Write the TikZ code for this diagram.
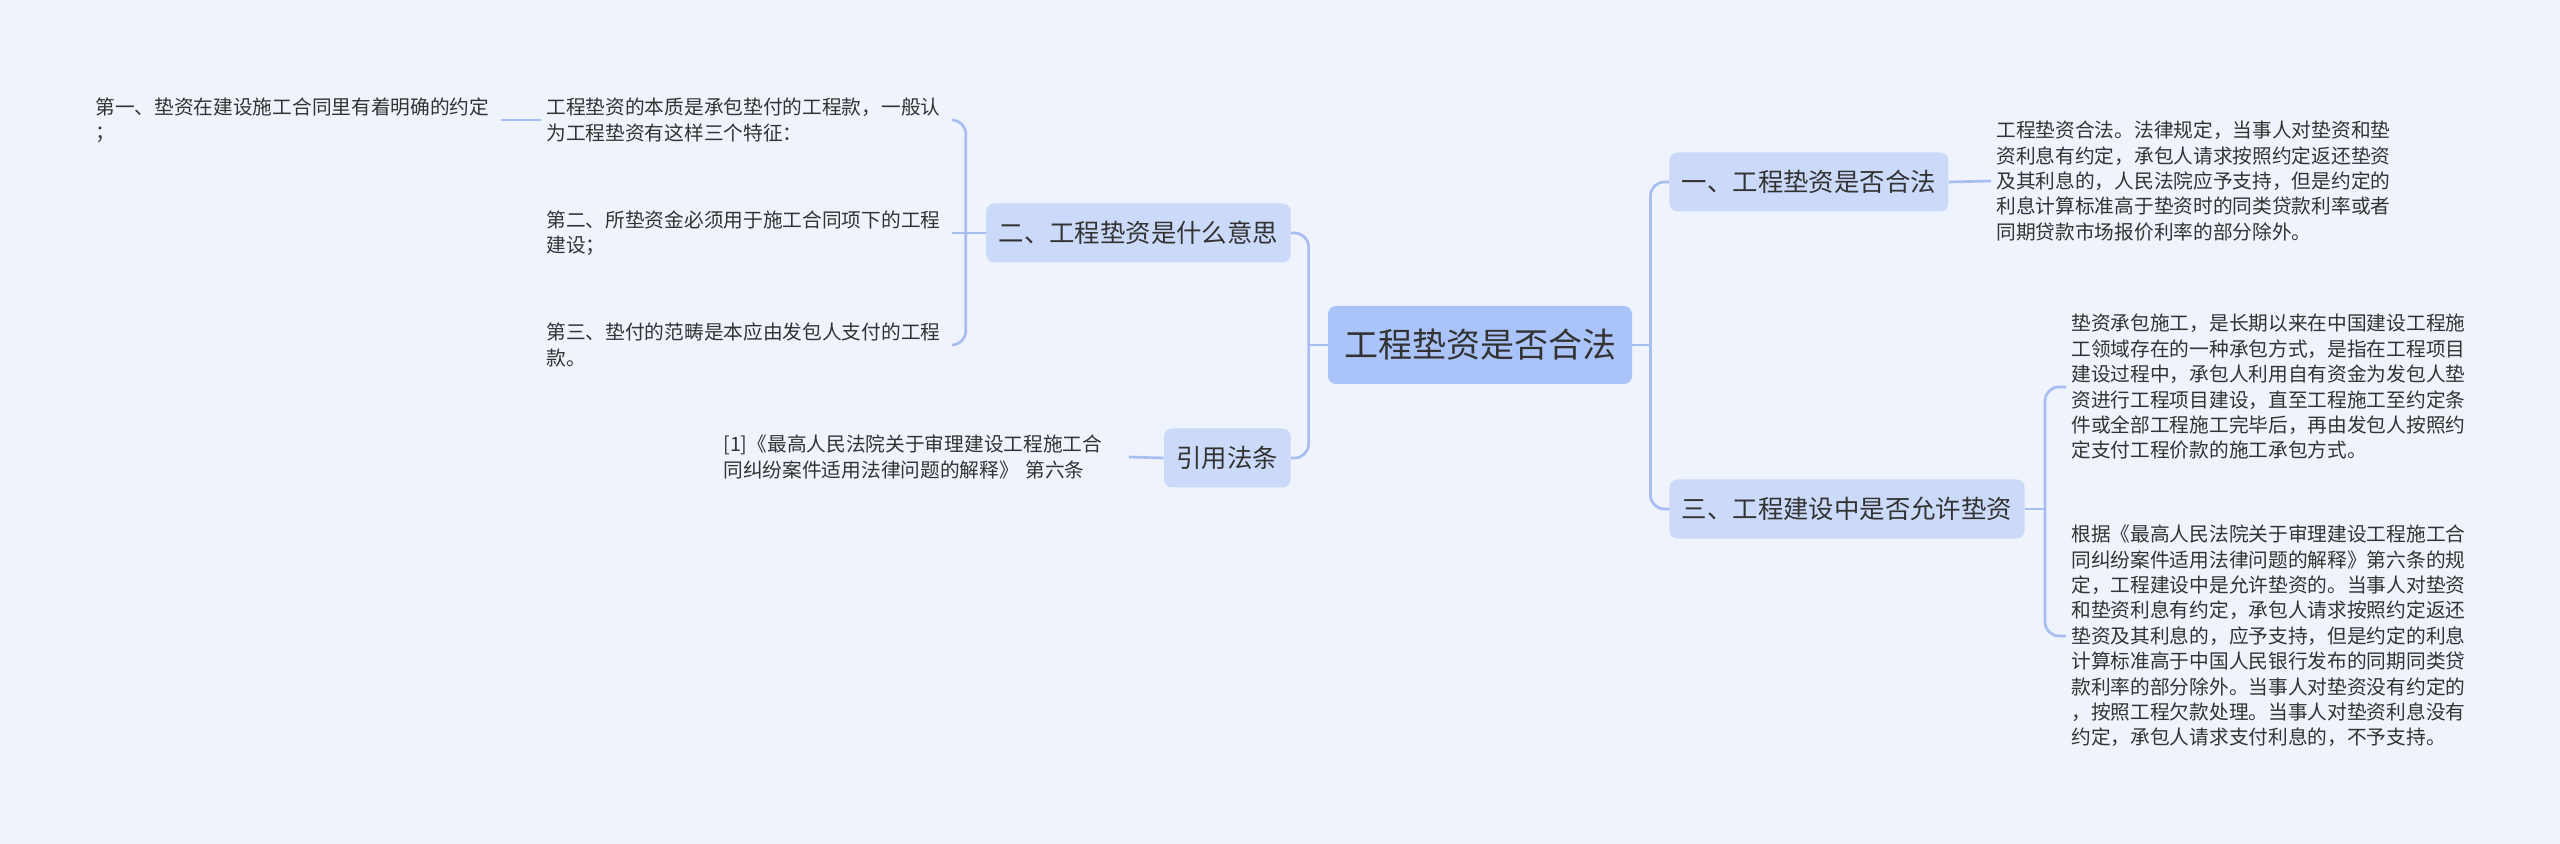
\documentclass[tikz,border=0pt]{standalone}
\usepackage{fontspec}
\setmainfont{Noto Sans CJK SC}
\usetikzlibrary{calc}

\definecolor{bgcol}{RGB}{238,243,252}
\definecolor{rootcol}{RGB}{170,196,250}
\definecolor{subcol}{RGB}{204,218,250}
\definecolor{linkcol}{RGB}{168,190,243}
\definecolor{txtcol}{RGB}{51,51,51}

\begin{document}
\begin{tikzpicture}[x=0.5pt,y=-0.5pt,
    rootbox/.style={fill=rootcol, rounded corners=4pt, text=txtcol, font=\fontsize{17}{20}\selectfont, inner xsep=8pt, inner ysep=0pt, minimum height=39pt},
    subbox/.style={fill=subcol, rounded corners=4pt, text=txtcol, font=\fontsize{12.7}{15}\selectfont, inner xsep=6.25pt, inner ysep=0pt, minimum height=29.5pt},
    leaf/.style={anchor=west, text=txtcol, font=\fontsize{9.85}{12.7}\selectfont, text width=200pt, align=left, inner xsep=2.5pt, inner ysep=0pt},
    link/.style={draw=linkcol, line width=1.35pt, rounded corners=7pt}]
    \fill[bgcol] (0,0) rectangle (2560,844);   % page background
    \useasboundingbox (0,0) rectangle (2560,844);

    % centre topic
    \node[rootbox] (root) at (1480,345) {工程垫资是否合法};

    % main branches
    \node[subbox, anchor=west] (one) at (1669,182) {一、工程垫资是否合法};
    \node[subbox, anchor=west] (three) at (1669,509) {三、工程建设中是否允许垫资};
    \node[subbox, anchor=east] (two) at (1291,233) {二、工程垫资是什么意思};
    \node[subbox, anchor=east] (law) at (1291,458) {引用法条};

    % leaves, right side
    \node[leaf] (onea) at (1991,181) {工程垫资合法。法律规定，当事人对垫资和垫\\资利息有约定，承包人请求按照约定返还垫资\\及其利息的，人民法院应予支持，但是约定的\\利息计算标准高于垫资时的同类贷款利率或者\\同期贷款市场报价利率的部分除外。};
    \node[leaf] (threea) at (2066,387) {垫资承包施工，是长期以来在中国建设工程施\\工领域存在的一种承包方式，是指在工程项目\\建设过程中，承包人利用自有资金为发包人垫\\资进行工程项目建设，直至工程施工至约定条\\件或全部工程施工完毕后，再由发包人按照约\\定支付工程价款的施工承包方式。};
    \node[leaf] (threeb) at (2066,636) {根据《最高人民法院关于审理建设工程施工合\\同纠纷案件适用法律问题的解释》第六条的规\\定，工程建设中是允许垫资的。当事人对垫资\\和垫资利息有约定，承包人请求按照约定返还\\垫资及其利息的，应予支持，但是约定的利息\\计算标准高于中国人民银行发布的同期同类贷\\款利率的部分除外。当事人对垫资没有约定的\\，按照工程欠款处理。当事人对垫资利息没有\\约定，承包人请求支付利息的，不予支持。};

    % leaves, left side
    \node[leaf] (twoa) at (541,120) {工程垫资的本质是承包垫付的工程款，一般认\\为工程垫资有这样三个特征：};
    \node[leaf] (twob) at (541,233) {第二、所垫资金必须用于施工合同项下的工程\\建设；};
    \node[leaf] (twoc) at (541,345) {第三、垫付的范畴是本应由发包人支付的工程\\款。};
    \node[leaf] (twoaa) at (90,120) {第一、垫资在建设施工合同里有着明确的约定\\；};
    \node[leaf] (lawa) at (718,457) {[1]《最高人民法院关于审理建设工程施工合\\同纠纷案件适用法律问题的解释》 第六条};

    % connectors
    \coordinate (rj) at ([xshift=9pt]root.east);
    \coordinate (lj) at ([xshift=-9.5pt]root.west);
    \coordinate (tj) at ([xshift=-10pt]two.west);
    \coordinate (sj) at ([xshift=10pt]three.east);

    \draw[link] (root.east) -- (rj);
    \draw[link] (rj) |- (one.west);
    \draw[link] (rj) |- (three.west);
    \draw[link] (root.west) -- (lj);
    \draw[link] (lj) |- (two.east);
    \draw[link] (lj) |- (law.east);

    \draw[link] (one.east) -- (onea.west);
    \draw[link] (three.east) -- (sj);
    \draw[link] (sj) |- (threea.west);
    \draw[link] (sj) |- (threeb.west);

    \draw[link] (two.west) -- (tj);
    \draw[link] (tj) |- (twoa.east);
    \draw[link] (tj) -- (twob.east);
    \draw[link] (tj) |- (twoc.east);
    \draw[link] (twoa.west) -- (twoaa.east);
    \draw[link] (law.west) -- (lawa.east);
\end{tikzpicture}
\end{document}
